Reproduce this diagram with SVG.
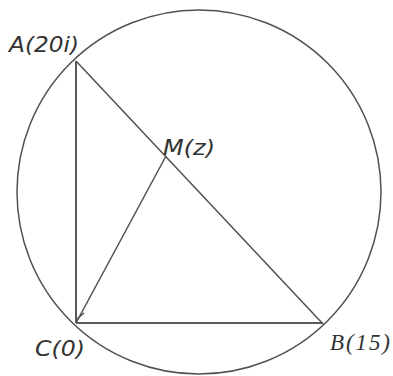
<svg xmlns="http://www.w3.org/2000/svg" width="393" height="376" viewBox="0 0 393 376">
<style>
.ln{stroke:#505050;stroke-width:1.5;fill:none}
.thick{stroke:#5a5a5a;stroke-width:2;fill:none}
.lbl{font-family:"DejaVu Sans",sans-serif;font-style:italic;font-size:21px;fill:#333}
.ser{font-family:"Liberation Serif",serif;font-style:italic;font-size:23px;fill:#333}
</style>
<rect width="393" height="376" fill="#fff"/>
<g id="circle"><circle cx="199" cy="192" r="182" class="ln"/></g>
<g id="connectors">
<line x1="76" y1="61" x2="76" y2="323" class="thick"/>
<line x1="76" y1="323" x2="323" y2="323" class="thick"/>
<line x1="76" y1="61" x2="323" y2="324" class="ln"/>
<line x1="76" y1="323" x2="166" y2="156" class="ln"/>
<line x1="77" y1="319" x2="84" y2="313" class="ln"/>
</g>
<g id="A"><text x="9" y="52" class="lbl" textLength="70" lengthAdjust="spacingAndGlyphs">A(20i)</text></g>
<g id="M"><text x="163" y="155" class="lbl" textLength="52" lengthAdjust="spacingAndGlyphs">M(z)</text></g>
<g id="C"><text x="35" y="356" class="lbl" textLength="50" lengthAdjust="spacingAndGlyphs">C(0)</text></g>
<g id="B"><text x="330" y="350" class="ser" textLength="60" lengthAdjust="spacing">B(15)</text></g>
</svg>
